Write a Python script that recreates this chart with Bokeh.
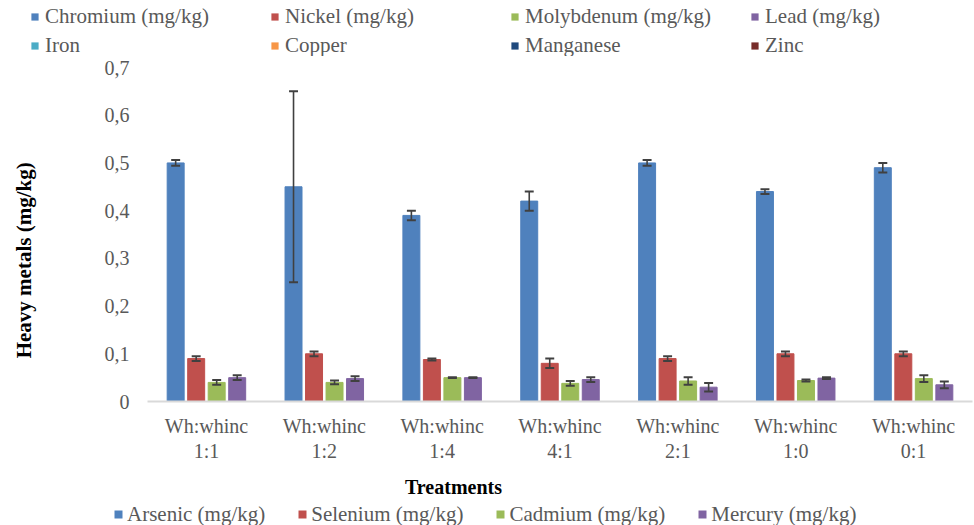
from math import pi

from bokeh.plotting import figure
from bokeh.layouts import column, row
from bokeh.models import (ColumnDataSource, FactorRange, Range1d, FixedTicker,
                          CustomJSTickFormatter, Legend, LegendItem, Label,
                          CategoricalAxis)
from bokeh.transform import dodge
from bokeh.embed import file_html
from bokeh.resources import INLINE

# Treatment groups: common prefix and mixing ratio
treatment_prefix = "Wh:whinc"
treatment_ratios = ["1:1", "1:2", "1:4", "4:1", "2:1", "1:0", "0:1"]

# Mean concentrations (mg/kg) and their error margins
arsenic = [0.50, 0.45, 0.39, 0.42, 0.50, 0.44, 0.49]
arsenic_err = [0.006, 0.20, 0.010, 0.020, 0.006, 0.005, 0.010]
selenium = [0.090, 0.100, 0.088, 0.080, 0.090, 0.100, 0.100]
selenium_err = [0.005, 0.005, 0.002, 0.010, 0.005, 0.005, 0.005]
cadmium = [0.040, 0.040, 0.050, 0.038, 0.043, 0.044, 0.048]
cadmium_err = [0.005, 0.004, 0.001, 0.005, 0.008, 0.002, 0.007]
mercury = [0.050, 0.048, 0.050, 0.046, 0.030, 0.049, 0.035]
mercury_err = [0.005, 0.005, 0.001, 0.005, 0.009, 0.002, 0.007]

series_names = ["Arsenic (mg/kg)", "Selenium (mg/kg)", "Cadmium (mg/kg)", "Mercury (mg/kg)"]
series_values = [arsenic, selenium, cadmium, mercury]
series_errors = [arsenic_err, selenium_err, cadmium_err, mercury_err]
series_colors = ["#4F81BD", "#C0504D", "#9BBB59", "#8064A2"]

# Legend entries listed above the chart
extra_names = ["Chromium (mg/kg)", "Nickel (mg/kg)", "Molybdenum (mg/kg)", "Lead (mg/kg)",
               "Iron", "Copper", "Manganese", "Zinc"]
extra_colors = ["#4F81BD", "#C0504D", "#9BBB59", "#8064A2",
                "#4BACC6", "#F79646", "#1F497D", "#772C2A"]

y_ticks = [0, 0.1, 0.2, 0.3, 0.4, 0.5, 0.6, 0.7]
y_title = "Heavy metals (mg/kg)"
x_title = "Treatments"

FONT = "Liberation Serif"
GREY = "#595959"

W, H = 974, 525
TOP_H, BOTTOM_H, LEFT_W = 56, 55, 45
MAIN_H = H - TOP_H - BOTTOM_H


def blank(width, height):
    """A figure whose frame fills the whole canvas, used for legends and titles."""
    f = figure(width=width, height=height, x_range=Range1d(0, width),
               y_range=Range1d(0, height), x_axis_type=None, y_axis_type=None,
               output_backend="svg", toolbar_location=None,
               min_border=0, min_border_left=0, min_border_right=0,
               min_border_top=0, min_border_bottom=0)
    f.xgrid.grid_line_color = None
    f.ygrid.grid_line_color = None
    f.outline_line_color = None
    return f


def swatch(f, color):
    # legend swatch renderer: a zero-size bar that only lends its colour to the legend
    return f.vbar(x=[0], top=[0], bottom=[0], width=0, fill_color=color, line_color=None)


def legend_box(items, loc, **kw):
    return Legend(items=items, location=loc, orientation="horizontal",
                  padding=0, margin=0, border_line_color=None,
                  background_fill_alpha=0, label_text_font=FONT,
                  label_text_font_size="21px", label_text_color=GREY, **kw)


# ---- main chart -------------------------------------------------------------
data = {"treatment": treatment_ratios}
for i, (vals, errs) in enumerate(zip(series_values, series_errors)):
    data[f"v{i}"] = vals
    data[f"lo{i}"] = [v - e for v, e in zip(vals, errs)]
    data[f"hi{i}"] = [v + e for v, e in zip(vals, errs)]
source = ColumnDataSource(data)

p = figure(x_range=FactorRange(*treatment_ratios), y_range=Range1d(0, 0.7),
           width=W - LEFT_W, height=MAIN_H, output_backend="svg", toolbar_location=None,
           min_border_left=147 - LEFT_W, min_border_right=2, min_border_top=67 - TOP_H,
           min_border_bottom=69)

slot = 0.174
bar_w = 0.144
cap = 0.038
for i, color in enumerate(series_colors):
    off = (i - 1.5) * slot
    p.vbar(x=dodge("treatment", off, range=p.x_range), top=f"v{i}", width=bar_w,
           source=source, fill_color=color, line_color=color)
    p.segment(x0=dodge("treatment", off, range=p.x_range), y0=f"lo{i}",
              x1=dodge("treatment", off, range=p.x_range), y1=f"hi{i}",
              source=source, line_color="#404040", line_width=1.6)
    for end in ("lo", "hi"):
        p.segment(x0=dodge("treatment", off - cap, range=p.x_range), y0=f"{end}{i}",
                  x1=dodge("treatment", off + cap, range=p.x_range), y1=f"{end}{i}",
                  source=source, line_color="#404040", line_width=2)

# y axis: labels only, decimal comma
p.yaxis.ticker = FixedTicker(ticks=y_ticks)
p.yaxis.formatter = CustomJSTickFormatter(
    code="return tick == 0 ? '0' : tick.toFixed(1).replace('.', ',');")
p.yaxis.axis_line_color = None
p.yaxis.major_tick_line_color = None
p.yaxis.minor_tick_line_color = None
p.yaxis.major_tick_out = 0
p.yaxis.major_tick_in = 0
p.yaxis.major_label_standoff = 18
p.yaxis.major_label_text_font = FONT
p.yaxis.major_label_text_font_size = "20px"
p.yaxis.major_label_text_color = GREY

# x axis: prefix line on the main axis, ratio line on a second axis below it
p.xaxis.axis_line_color = "#D9D9D9"
p.xaxis.axis_line_width = 2
p.xaxis.major_tick_line_color = None
p.xaxis.minor_tick_line_color = None
p.xaxis.major_tick_out = 0
p.xaxis.major_tick_in = 0
p.xaxis.major_label_standoff = 13
p.xaxis.formatter = CustomJSTickFormatter(args=dict(prefix=treatment_prefix),
                                          code="return prefix;")
p.xaxis.major_label_text_font = FONT
p.xaxis.major_label_text_font_size = "20px"
p.xaxis.major_label_text_color = GREY

ratio_axis = CategoricalAxis(axis_line_color=None, major_tick_line_color=None,
                             minor_tick_line_color=None, major_tick_out=0, major_tick_in=0,
                             major_label_standoff=0, major_label_text_font=FONT,
                             major_label_text_font_size="20px",
                             major_label_text_color=GREY)
p.add_layout(ratio_axis, "below")

p.xgrid.grid_line_color = None
p.ygrid.grid_line_color = None
p.outline_line_color = None

# ---- y-axis title strip -----------------------------------------------------
left = blank(LEFT_W, MAIN_H)
left.add_layout(Label(x=23, y=175, text=y_title, angle=pi / 2,
                      text_align="center", text_baseline="middle", text_font=FONT,
                      text_font_style="bold", text_font_size="21px", text_color="black"))

# ---- top legend (two rows of four) -----------------------------------------
top = blank(W, TOP_H)
top_items = [LegendItem(label=n, renderers=[swatch(top, c)])
             for n, c in zip(extra_names, extra_colors)]
top.add_layout(legend_box(top_items, (30, -2), ncols=4, glyph_width=9, glyph_height=9,
                          label_standoff=6, label_width=221, label_height=23, spacing=4))

# ---- x-axis title and bottom legend -----------------------------------------
bottom = blank(W, BOTTOM_H)
bottom.add_layout(Label(x=453, y=BOTTOM_H - 16, text=x_title, text_align="center",
                        text_baseline="middle", text_font=FONT, text_font_style="bold",
                        text_font_size="20px", text_color="black"))
bottom_items = [LegendItem(label=n, renderers=[swatch(bottom, c)])
                for n, c in zip(series_names, series_colors)]
bottom.add_layout(legend_box(bottom_items, (113, -1.5), glyph_width=10, glyph_height=10,
                             label_standoff=4, label_height=23, spacing=32))

layout = column(top, row(left, p, spacing=0), bottom, spacing=0)

open("out.html", "w").write(file_html(layout, INLINE))
